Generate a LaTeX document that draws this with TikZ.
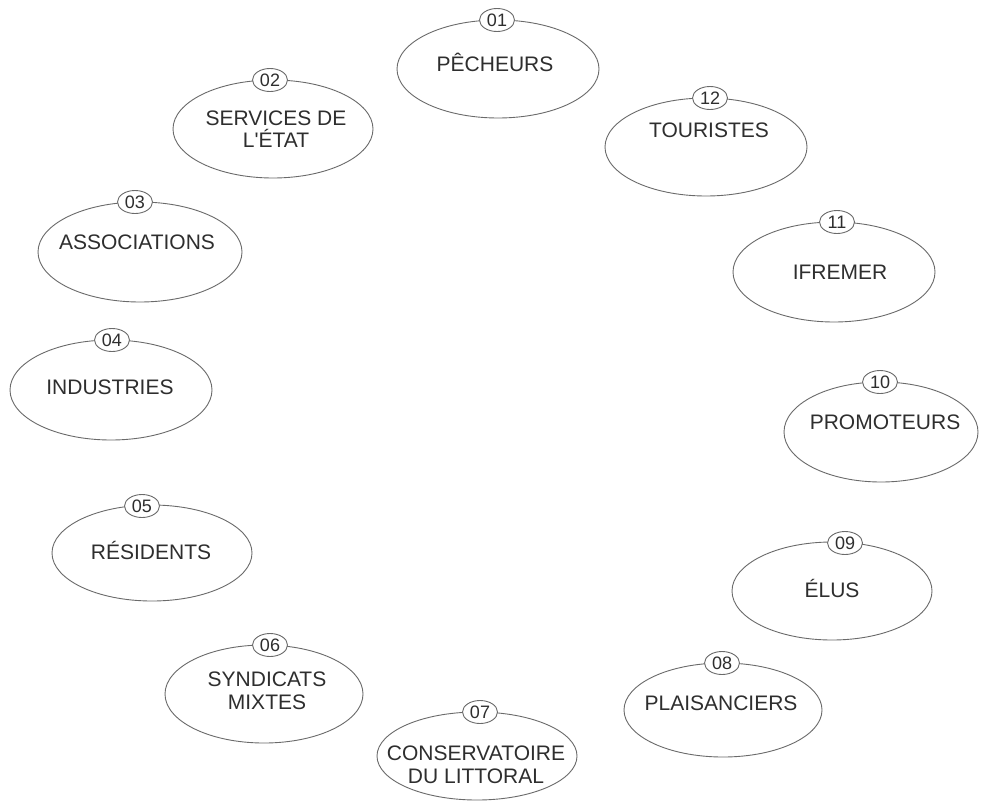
\documentclass[tikz,border=0pt]{standalone}
\usepackage{fontspec}
\setmainfont{Liberation Sans}
\usetikzlibrary{shapes.geometric}
\definecolor{linec}{HTML}{6A6A6A}
\definecolor{textc}{HTML}{2E2E2E}
\begin{document}
\begin{tikzpicture}[x=1pt,y=-1pt,
  actor/.style={draw=linec,line width=0.9pt,ellipse,inner sep=0pt},
  badge/.style={draw=linec,line width=0.9pt,ellipse,fill=white,inner sep=0pt,
     minimum width=35pt,minimum height=23pt,text=textc,font=\fontsize{18}{20}\selectfont},
  lbl/.style={text=textc,align=center,inner sep=0pt,font=\fontsize{21}{22.5}\selectfont}]
\useasboundingbox[fill=white] (0,0) rectangle (981,811);
% 01
\node[actor,minimum width=202pt,minimum height=98pt] (e01) at (498,69) {};
\node[badge] (b01) at (497,20) {01};
\node[lbl] (t01) at (495,62) {PÊCHEURS};
% 02
\node[actor,minimum width=200pt,minimum height=98pt] (e02) at (273,129) {};
\node[badge] (b02) at (270,80) {02};
\node[lbl] (t02) at (276,129) {SERVICES DE\\L\textquotesingle ÉTAT};
% 03
\node[actor,minimum width=204pt,minimum height=100pt] (e03) at (140,252) {};
\node[badge] (b03) at (135,202) {03};
\node[lbl] (t03) at (137,242) {ASSOCIATIONS};
% 04
\node[actor,minimum width=202pt,minimum height=100pt] (e04) at (111,390) {};
\node[badge] (b04) at (112,340) {04};
\node[lbl] (t04) at (110,387) {INDUSTRIES};
% 05
\node[actor,minimum width=200pt,minimum height=96pt] (e05) at (152,553) {};
\node[badge] (b05) at (142,506) {05};
\node[lbl] (t05) at (151,550) {RÉSIDENTS};
% 06
\node[actor,minimum width=198pt,minimum height=98pt] (e06) at (264,694) {};
\node[badge] (b06) at (270,645) {06};
\node[lbl] (t06) at (267,691) {SYNDICATS\\MIXTES};
% 07
\node[actor,minimum width=200pt,minimum height=88pt] (e07) at (477,756) {};
\node[badge] (b07) at (480,712) {07};
\node[lbl] (t07) at (476,765) {CONSERVATOIRE\\DU LITTORAL};
% 08
\node[actor,minimum width=198pt,minimum height=94pt] (e08) at (723,710) {};
\node[badge] (b08) at (722,663) {08};
\node[lbl] (t08) at (721,703) {PLAISANCIERS};
% 09
\node[actor,minimum width=200pt,minimum height=98pt] (e09) at (832,591) {};
\node[badge] (b09) at (845,543) {09};
\node[lbl] (t09) at (832,588) {ÉLUS};
% 10
\node[actor,minimum width=194pt,minimum height=100pt] (e10) at (881,432) {};
\node[badge] (b10) at (880,382) {10};
\node[lbl] (t10) at (885,422) {PROMOTEURS};
% 11
\node[actor,minimum width=202pt,minimum height=100pt] (e11) at (834,272) {};
\node[badge] (b11) at (837,222) {11};
\node[lbl] (t11) at (840,272) {IFREMER};
% 12
\node[actor,minimum width=202pt,minimum height=98pt] (e12) at (706,147) {};
\node[badge] (b12) at (710,98) {12};
\node[lbl] (t12) at (709,130) {TOURISTES};
\end{tikzpicture}
\end{document}
